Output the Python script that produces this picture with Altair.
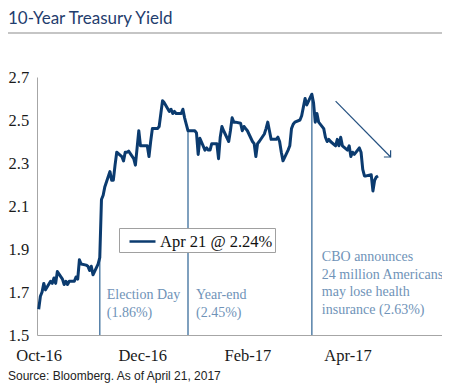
import altair as alt
import pandas as pd

# ---------------- data ----------------
start_date = "2016-10-03"
end_date = "2017-04-21"
yields = [
    1.62, 1.68, 1.70, 1.74, 1.71,
    1.75, 1.74, 1.765, 1.74, 1.795,
    1.76, 1.735, 1.75, 1.735, 1.75,
    1.75, 1.77, 1.76, 1.85, 1.83,
    1.825, 1.82, 1.80, 1.82, 1.78,
    1.83, 1.86, 2.13, 2.15, 2.19,
    2.26, 2.22, 2.22, 2.29, 2.35,
    2.33, 2.31, 2.35, 2.35, 2.355,
    2.32, 2.29, 2.37, 2.45, 2.38,
    2.38, 2.38, 2.33, 2.40, 2.46,
    2.46, 2.47, 2.53, 2.59, 2.58,
    2.54, 2.55, 2.53, 2.54, 2.53,
    2.53, 2.55, 2.51, 2.48, 2.45,
    2.45, 2.45, 2.44, 2.34, 2.415,
    2.36, 2.37, 2.36, 2.36, 2.39,
    2.39, 2.32, 2.42, 2.47, 2.45,
    2.40, 2.45, 2.51, 2.49, 2.49,
    2.485, 2.45, 2.47, 2.46, 2.45,
    2.40, 2.39, 2.33, 2.39, 2.40,
    2.435, 2.46, 2.49, 2.45, 2.41,
    2.41, 2.42, 2.40, 2.35, 2.31,
    2.36, 2.38, 2.46, 2.48, 2.49,
    2.50, 2.52, 2.56, 2.60, 2.57,
    2.62, 2.58, 2.49, 2.53, 2.49,
    2.46, 2.42, 2.40, 2.41, 2.40,
    2.38, 2.41, 2.38, 2.42, 2.38,
    2.36, 2.38, 2.33, 2.35, 2.34,
    2.37, 2.35, 2.27, 2.24, 2.24,
    2.245, 2.17, 2.22, 2.235, 2.24,
]
series_name = "Apr 21 @ 2.24%"

event_dates = ["2016-11-08", "2016-12-30", "2017-03-13"]
event_values = [1.86, 2.45, 2.62]
event_labels = [
    ["Election Day", "(1.86%)"],
    ["Year-end", "(2.45%)"],
    ["CBO announces", "24 million Americans", "may lose health", "insurance (2.63%)"],
]
event_label_y = [1.667, 1.667, 1.844]
event_label_dx = [7, 8, 10]

y_ticks = [1.5, 1.7, 1.9, 2.1, 2.3, 2.5, 2.7]
x_tick_dates = [(2016, 10, 3), (2016, 12, 3), (2017, 2, 3), (2017, 4, 3)]

arrow_start = ((2017, 3, 27, 0), 2.588)
arrow_end = ((2017, 4, 28, 10), 2.328)

title_text = "10-Year Treasury Yield"
source_text = "Source: Bloomberg. As of April 21, 2017"

# ---------------- styles ----------------
NAVY = "#0b3b6f"
RULE = "#5580a8"
NOTE = "#6f93b8"
SERIF = "Liberation Serif, Times New Roman, DejaVu Serif, serif"

W, H = 405, 258


def dt(y, m, d, h=0):
    return alt.DateTime(year=y, month=m, date=d, hours=h, utc=True)


dates = pd.bdate_range(start_date, end_date)
df = pd.DataFrame({
    "date": dates.strftime("%Y-%m-%d"),
    "yield": yields,
    "series": series_name,
})

x_scale = alt.Scale(type="utc", domain=[dt(2016, 10, 2), dt(2017, 5, 28, 17)])
y_scale = alt.Scale(domain=[1.5, 2.7], zero=False, nice=False)

x_axis = alt.Axis(
    values=[dt(*d) for d in x_tick_dates], format="%b-%y", title=None,
    ticks=False, grid=False, domainColor="#a6a6a6", domainWidth=1,
    labelFont=SERIF, labelFontSize=16.5, labelColor="#1a1a1a",
    labelPadding=12,
)
y_axis = alt.Axis(
    values=y_ticks, format=".1f", title=None, ticks=False, tickSize=0,
    grid=False, domainColor="#a6a6a6", domainWidth=1,
    labelFont=SERIF, labelFontSize=16.5, labelColor="#1a1a1a",
    labelAlign="left", labelPadding=29,
)

ev_df = pd.DataFrame({"date": event_dates, "value": event_values})
rules = alt.Chart(ev_df).mark_rule(color=RULE, strokeWidth=1.5).encode(
    x=alt.X("date:T", scale=x_scale, axis=x_axis),
    y=alt.Y("value:Q", scale=y_scale, axis=y_axis),
    y2=alt.datum(1.5),
)

line = alt.Chart(df).mark_line(strokeWidth=3, strokeJoin="round").encode(
    x=alt.X("date:T", scale=x_scale),
    y=alt.Y("yield:Q", scale=y_scale),
    color=alt.Color(
        "series:N",
        scale=alt.Scale(range=[NAVY]),
        legend=alt.Legend(
            title=None, orient="none", legendX=82, legendY=151,
            symbolType="M -1.3 0 L 1.3 0", symbolSize=400, symbolStrokeWidth=2.5,
            symbolOffset=10, labelOffset=6,
            labelFont=SERIF, labelFontSize=16.5, labelColor="#111111",
            strokeColor="#a0a0a0", fillColor="white", padding=2,
        ),
    ),
)

notes = []
for d, lbl, yv, dx in zip(event_dates, event_labels, event_label_y, event_label_dx):
    y0, m0, d0 = (int(p) for p in d.split("-"))
    notes.append(
        alt.Chart().mark_text(
            text=lbl, align="left", baseline="alphabetic", dx=dx,
            font=SERIF, fontSize=14, color=NOTE, lineHeight=17.5,
        ).encode(x=alt.datum(dt(y0, m0, d0)), y=alt.datum(yv))
    )

arrow = alt.Chart().mark_rule(color="#24507f", strokeWidth=1.2).encode(
    x=alt.datum(dt(*arrow_start[0])), y=alt.datum(arrow_start[1]),
    x2=alt.datum(dt(*arrow_end[0])), y2=alt.datum(arrow_end[1]),
)
head = alt.Chart().mark_point(
    shape="M -1 -1 L 0 0 L -1 1", filled=False, size=90, angle=45,
    strokeWidth=1.2, color="#24507f", opacity=1,
).encode(x=alt.datum(dt(*arrow_end[0])), y=alt.datum(arrow_end[1]))

title = alt.Chart().mark_text(
    text=title_text, align="left", baseline="alphabetic",
    font="Lato", fontSize=17, color="#1f3d6e",
).encode(x=alt.value(-29), y=alt.value(-53))

underline = alt.Chart().mark_rule(color="#8c8c8c", strokeWidth=1.2).encode(
    x=alt.value(-29), x2=alt.value(W), y=alt.value(-44)
)

source = alt.Chart().mark_text(
    text=source_text, align="left", baseline="alphabetic",
    font="Liberation Sans", fontSize=12, color="#222222",
).encode(x=alt.value(-29), y=alt.value(303))

chart = alt.layer(
    rules, line, *notes, arrow, head, title, underline, source
).properties(
    width=W, height=H,
    autosize=alt.AutoSizeParams(type="none"),
    padding={"left": 29, "top": 69, "right": 0, "bottom": 48},
).configure_view(strokeWidth=0)

chart.save("out.html", embed_options={"renderer": "svg", "actions": False})
